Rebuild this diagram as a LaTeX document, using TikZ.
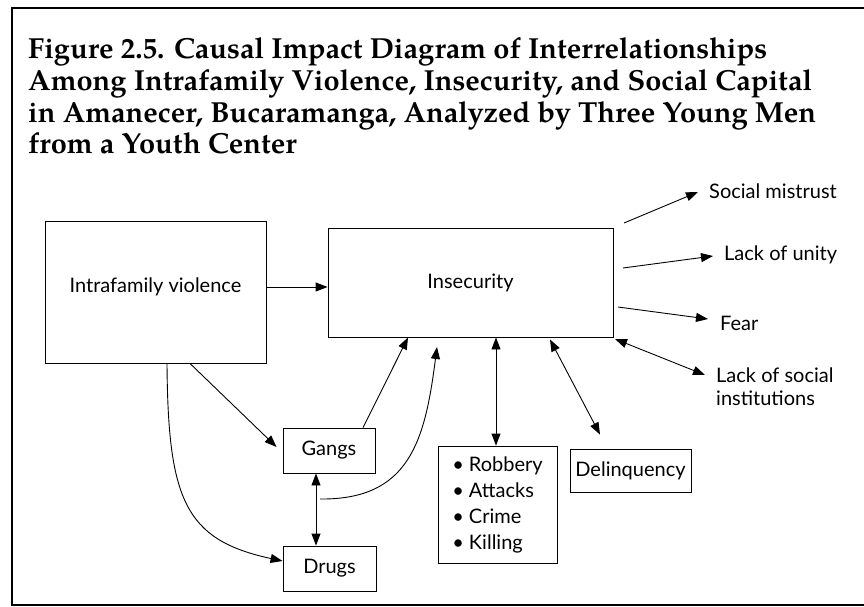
\documentclass[tikz,border=0pt]{standalone}
\usepackage{fontspec}
\setmainfont{Lato}
% bold old-style serif for the heading
\newfontfamily\headfont[Extension=.otf, UprightFont=*-bold]{texgyrepagella}
\usetikzlibrary{arrows.meta}
\begin{document}
\begin{tikzpicture}[x=1pt,y=-1pt,
  >={Triangle[length=12pt,width=9pt]},
  box/.style={draw, line width=0.9pt, inner sep=0pt, font=\fontsize{20}{24}\selectfont},
  lbl/.style={inner sep=0pt, font=\fontsize{20}{24}\selectfont},
  head/.style={inner sep=0pt, anchor=base west, font=\headfont\fontsize{29}{32}\selectfont},
  arr/.style={->, line width=0.9pt},
  darr/.style={<->, line width=0.9pt},
  frame/.style={line width=2.2pt}]
\useasboundingbox (0,0) rectangle (864,606);

% outer frame (open on the right)
\coordinate (fTL) at (12,8);
\coordinate (fTR) at (864,8);
\coordinate (fBL) at (12,605);
\coordinate (fBR) at (864,605);
\draw[frame] (fTR) -- (fTL) -- (fBL) -- (fBR);

% heading
\node[head] (h1) at (28,58) {Figure 2.5. Causal Impact Diagram of Interrelationships};
\node[head] (h2) at (28,90) {Among Intrafamily Violence, Insecurity, and Social Capital};
\node[head] (h3) at (28,122) {in Amanecer, Bucaramanga, Analyzed by Three Young Men};
\node[head] (h4) at (28,153) {from a Youth Center};

% boxes
\node[box, minimum width=221pt, minimum height=142pt] (iv) at (155.5,292)
  {\raisebox{14pt}{Intrafamily violence}};
\node[box, minimum width=285pt, minimum height=109pt] (ins) at (470.5,282.5) {Insecurity};
\node[box, minimum width=92pt, minimum height=45pt] (gang) at (329,450.5) {Gangs};
\node[box, minimum width=93pt, minimum height=45pt] (drug) at (329.5,568.5) {Drugs};
\node[box, minimum width=119pt, minimum height=117pt, align=left,
      font=\fontsize{20}{26}\selectfont] (list) at (497.5,504.5)
  {\textbullet\ Robbery\\ \textbullet\ Attacks\\ \textbullet\ Crime\\ \textbullet\ Killing};
\node[box, minimum width=121pt, minimum height=43pt] (del) at (630.5,470.5) {Delinquency};

% outcome labels
\node[lbl, anchor=west] (sm) at (709,191) {Social mistrust};
\node[lbl, anchor=west] (lu) at (724,255) {Lack of unity};
\node[lbl, anchor=west] (fear) at (720,323) {Fear};
\node[lbl, anchor=north west, align=left, font=\fontsize{20}{23}\selectfont] (lsi) at (716,368)
  {Lack of social\\institutions};

% free ends of the open connectors
\coordinate (smA) at (624,223);
\coordinate (luA) at (623,268);
\coordinate (feA) at (618,307);
\coordinate (liA) at (615,339);
\coordinate (cs) at (320,499);
\coordinate (ce) at (437,347);

% connectors
\draw[arr] ([yshift=5pt]iv.east) -- ([yshift=5pt]iv.east -| ins.west);
\draw[arr] ([xshift=34.5pt]iv.south) -- ([xshift=-6pt,yshift=3.5pt]gang.west);
\draw[arr] ([xshift=11.5pt]iv.south) .. controls (168,500) and (185,540) .. ([yshift=7.5pt]drug.west);
\draw[arr] ([xshift=34pt]gang.north) -- ([xshift=-62.5pt]ins.south);
\draw[arr] (cs) .. controls (410,500) and (425,440) .. (ce);
\draw[darr] ([xshift=-13pt]gang.south) -- ([xshift=-13pt]gang.south |- drug.north);
\draw[darr] ([xshift=25.5pt]ins.south) -- ([xshift=25.5pt]ins.south |- list.north);
\draw[darr] ([xshift=79.5pt,yshift=-2pt]ins.south) -- ([xshift=-30.5pt,yshift=14pt]del.north);

\draw[arr] (smA) -- ([xshift=-11pt,yshift=-1pt]sm.west);
\draw[arr] (luA) -- ([xshift=-11pt,yshift=-1pt]lu.west);
\draw[arr] (feA) -- ([xshift=-12pt,yshift=4pt]fear.west);
\draw[darr] (liA) -- ([xshift=-11pt,yshift=-7pt]lsi.north west);
\end{tikzpicture}
\end{document}
